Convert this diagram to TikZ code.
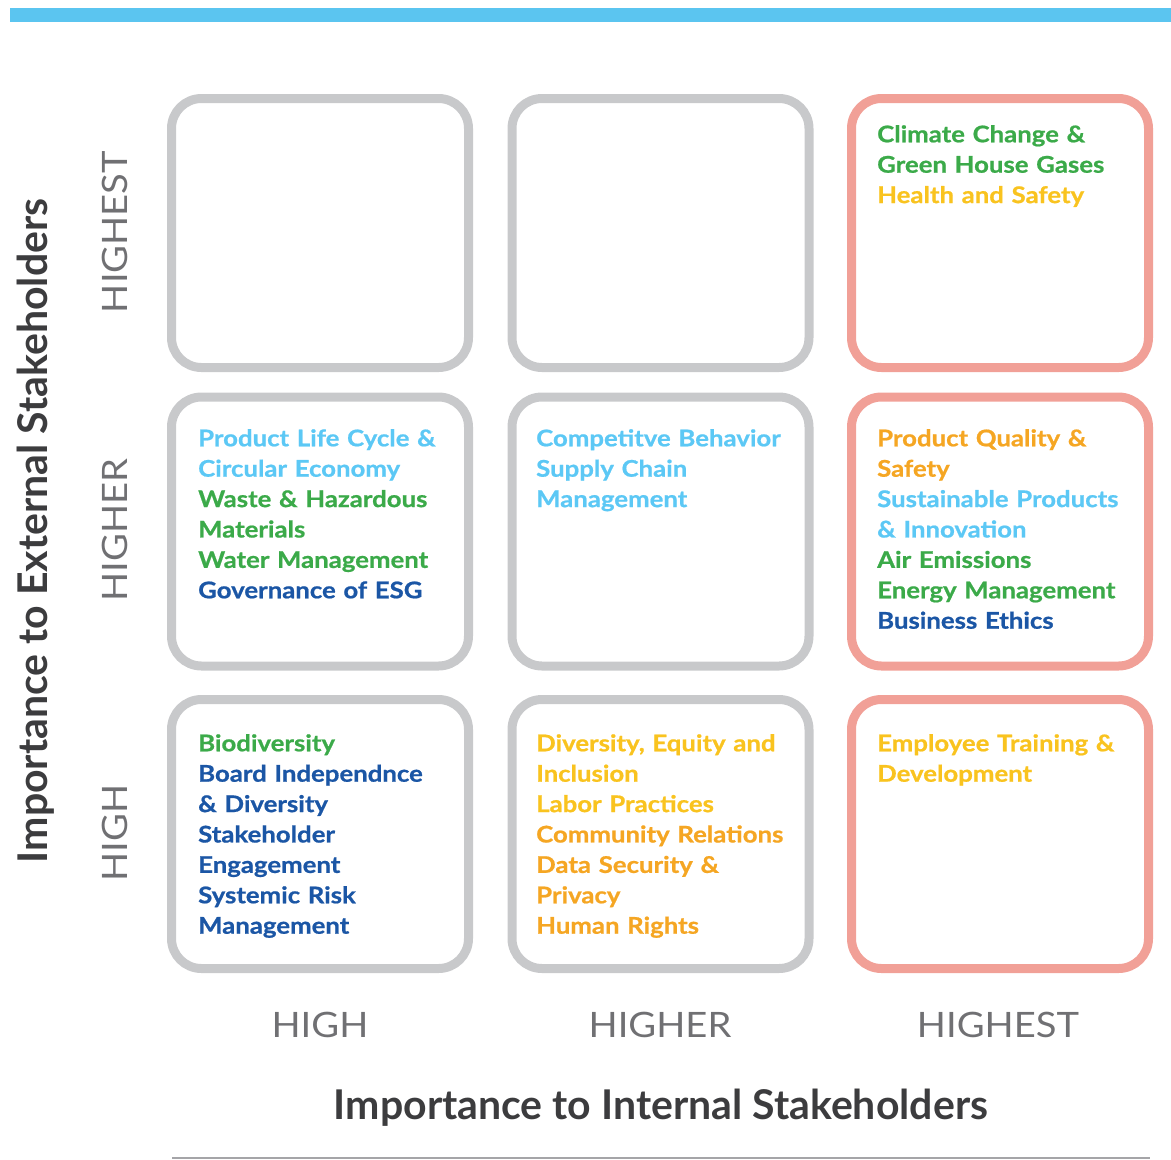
\documentclass[tikz,border=0pt]{standalone}
\usepackage{fontspec}
\setmainfont{Lato}
\newfontfamily\itemfont{Lato}[FakeStretch=1.12, FakeBold=0.8]
\newfontfamily\levelfont{Lato}[FakeStretch=1.09]
\usepackage{tikz}
\usetikzlibrary{positioning}
\definecolor{bar}{RGB}{91,197,240}
\definecolor{sky}{RGB}{92,200,245}
\definecolor{leaf}{RGB}{59,170,73}
\definecolor{navy}{RGB}{27,86,165}
\definecolor{sun}{RGB}{249,195,31}
\definecolor{amber}{RGB}{245,166,35}
\definecolor{boxgray}{RGB}{200,201,203}
\definecolor{boxred}{RGB}{241,160,151}
\definecolor{tick}{RGB}{112,112,115}
\definecolor{ink}{RGB}{60,60,62}
\definecolor{rulegray}{RGB}{165,165,168}

\begin{document}
\begin{tikzpicture}[x=1pt, y=-1pt,
  cell/.style={rectangle, rounded corners=30pt, draw=boxgray, line width=9pt,
               minimum width=297pt, minimum height=269pt, inner sep=0pt},
  hot/.style={cell, draw=boxred},
  items/.style={anchor=north west, inner sep=0pt, text width=300pt, align=left,
                font=\itemfont\bfseries\fontsize{23}{30.4}\selectfont},
  level/.style={anchor=base, inner sep=0pt, text=tick, font=\levelfont\fontsize{35}{35}\selectfont},
  axis/.style={anchor=base, inner sep=0pt, text=ink, font=\bfseries\fontsize{41}{41}\selectfont}]
  \useasboundingbox (0,0) rectangle (1171,1160);
  \fill[bar] (10,8) rectangle (1171,22);

  \node[cell] (a1) at (320,233)   {};
  \node[cell] (b1) at (660.5,233) {};
  \node[hot]  (c1) at (1000,233)  {};
  \node[cell] (a2) at (320,531.5)   {};
  \node[cell] (b2) at (660.5,531.5) {};
  \node[hot]  (c2) at (1000,531.5)  {};
  \node[cell] (a3) at (320,834)   {};
  \node[cell] (b3) at (660.5,834) {};
  \node[hot]  (c3) at (1000,834)  {};

  \node[items] (c1t) at (877,125) {\color{leaf}Climate Change \&\\Green House Gases\\
    \color{sun}Health and Safety};
  \node[items] (a2t) at (198,429) {\color{sky}Product Life Cycle \&\\Circular Economy\\
    \color{leaf}Waste \& Hazardous\\Materials\\Water Management\\
    \color{navy}Governance of ESG};
  \node[items] (b2t) at (536,429) {\color{sky}Competitve Behavior\\Supply Chain\\Management};
  \node[items] (c2t) at (877,429) {\color{amber}Product Quality \&\\Safety\\
    \color{sky}Sustainable Products\\\& Innovation\\
    \color{leaf}Air Emissions\\Energy Management\\
    \color{navy}Business Ethics};
  \node[items] (a3t) at (198,734) {\color{leaf}Biodiversity\\
    \color{navy}Board Independnce\\\& Diversity\\Stakeholder\\Engagement\\Systemic Risk\\Management};
  \node[items] (b3t) at (536,734) {\color{sun}Diversity, Equity and\\Inclusion\\Labor Practices\\
    \color{amber}Community Relations\\Data Security \&\\Privacy\\Human Rights};
  \node[items] (c3t) at (877,734) {\color{sun}Employee Training \&\\Development};

  \node[level] (xlo)  at (320,1037)  {HIGH};
  \node[level] (xmid) at (660,1037)  {HIGHER};
  \node[level] (xhi)  at (998,1037)  {HIGHEST};
  \node[level, rotate=90] (ylo)  at (127,833) {HIGH};
  \node[level, rotate=90] (ymid) at (127,530) {HIGHER};
  \node[level, rotate=90] (yhi)  at (127,232) {HIGHEST};

  \node[axis] (xname) at (661,1119) {Importance to Internal Stakeholders};
  \node[axis, rotate=90] (yname) at (47,531) {Importance to External Stakeholders};
  \draw[rulegray, line width=2pt] (172,1158) -- (1150,1158);
\end{tikzpicture}
\end{document}
